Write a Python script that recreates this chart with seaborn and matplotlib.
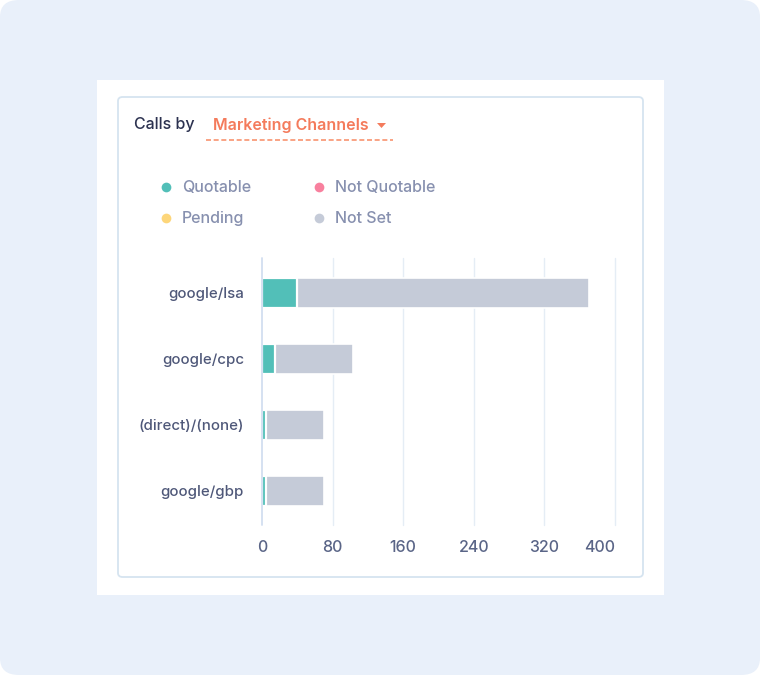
import matplotlib
matplotlib.use("Agg")
import matplotlib.pyplot as plt
from matplotlib.patches import FancyBboxPatch, Rectangle
from matplotlib.lines import Line2D
import pandas as pd
import seaborn as sns

# Chart data
channels = ["google/lsa", "google/cpc", "(direct)/(none)", "google/gbp"]
quotable = [40, 15, 5, 4]
not_quotable = [0, 0, 0, 0]
pending = [0, 0, 0, 0]
not_set = [330, 88, 65, 66]
x_ticks = [0, 80, 160, 240, 320, 400]

legend_labels = ["Quotable", "Pending", "Not Quotable", "Not Set"]
legend_colors = ["#52bfb8", "#fdd67a", "#f8809e", "#c5cbd8"]

df = pd.DataFrame({"channel": channels, "quotable": quotable,
                   "not_quotable": not_quotable, "pending": pending,
                   "not_set": not_set})
df["total"] = df["quotable"] + df["not_quotable"] + df["pending"] + df["not_set"]

sns.set_style("white")
plt.rcParams["font.family"] = ["Inter", "DejaVu Sans"]

W, H = 760, 675
fig = plt.figure(figsize=(7.6, 6.75), dpi=100, facecolor="white")


def fx(px):
    return px / W


def fy(py):
    return 1 - py / H


# page background and card
fig.patches.append(FancyBboxPatch((0, 0), 1, 1, boxstyle="round,pad=0,rounding_size=0.025",
                                  transform=fig.transFigure, facecolor="#e9f0fa",
                                  edgecolor="none", zorder=0))
fig.patches.append(Rectangle((fx(97), fy(595)), fx(664) - fx(97), fy(80) - fy(595),
                             transform=fig.transFigure, facecolor="white",
                             edgecolor="none", zorder=1))
fig.patches.append(FancyBboxPatch((fx(118), fy(577)), fx(643) - fx(118), fy(97) - fy(577),
                                  boxstyle="round,pad=0,rounding_size=0.006",
                                  transform=fig.transFigure, facecolor="white",
                                  edgecolor="#d6e4f0", linewidth=1.3, zorder=2))

# header
fig.text(fx(134), fy(125), "Calls by", fontsize=11.5, color="#2c3250",
         fontweight=500, va="center", ha="left", zorder=3)
fig.text(fx(213), fy(125), "Marketing Channels", fontsize=11.5, color="#f47b5c",
         fontweight=600, va="center", ha="left", zorder=3)
fig.patches.append(plt.Polygon([[fx(377), fy(123)], [fx(386), fy(123)], [fx(381.5), fy(128)]],
                               closed=True, transform=fig.transFigure,
                               facecolor="#f47b5c", edgecolor="none", zorder=3))
fig.lines.append(Line2D([fx(206), fx(393)], [fy(139.5), fy(139.5)],
                        transform=fig.transFigure, color="#f8936f", zorder=4,
                        linewidth=1.2, linestyle=(0, (3, 1.6))))

# bars
ax = fig.add_axes([fx(262), fy(525), fx(615) - fx(262), fy(258) - fy(525)])
ax.set_facecolor("none")
ax.set_zorder(3)
sns.barplot(data=df, x="total", y="channel", orient="h", color=legend_colors[3],
            width=0.45, edgecolor="white", linewidth=1.2, saturation=1, ax=ax, zorder=3)
sns.barplot(data=df, x="quotable", y="channel", orient="h", color=legend_colors[0],
            width=0.45, edgecolor="white", linewidth=1.6, saturation=1, ax=ax, zorder=4)

ax.set_xlim(0, 400)
ax.set_ylim(3.52, -0.53)
ax.set_xticks(x_ticks)
ax.set_xlabel("")
ax.set_ylabel("")
for x in x_ticks[1:]:
    ax.axvline(x, color="#e5edf5", linewidth=1, zorder=1, clip_on=False)
ax.axvline(0, color="#d2def0", linewidth=1.3, zorder=5, clip_on=False)
for s in ax.spines.values():
    s.set_visible(False)
ax.tick_params(axis="x", length=0, pad=11, labelsize=11.5, labelcolor="#5a6587")
ax.tick_params(axis="y", length=0, pad=13, labelsize=10.8, labelcolor="#4f5879")
for lab in ax.get_xticklabels() + ax.get_yticklabels():
    lab.set_fontweight(500)
ax.get_xticklabels()[-1].set_ha("right")

# legend
handles = [Line2D([], [], marker="o", linestyle="none", markersize=7,
                  markerfacecolor=c, markeredgecolor="none") for c in legend_colors]
leg = fig.legend(handles, legend_labels, loc="upper left",
                 bbox_to_anchor=(fx(145), fy(166)), ncol=2, frameon=False,
                 fontsize=11.5, labelcolor="#8790af", handlelength=0.8,
                 handletextpad=0.6, columnspacing=3.85, labelspacing=1.0)
for t in leg.get_texts():
    t.set_fontweight(500)

fig.savefig("out.png", dpi=100, facecolor="white")
